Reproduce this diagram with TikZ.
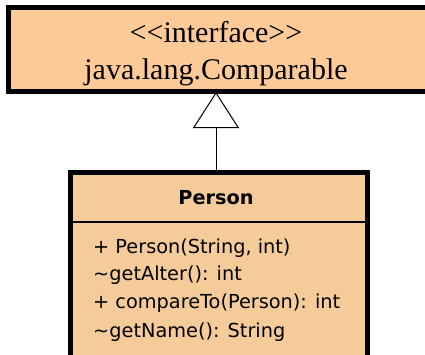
\documentclass[tikz,border=0pt]{standalone}
\usepackage{fontspec}
\setmainfont{Liberation Serif}
\newfontfamily\umlsans{DejaVu Sans}
\usetikzlibrary{arrows.meta}
\definecolor{ifacefill}{RGB}{254,202,152}
\definecolor{classfill}{RGB}{245,204,153}
\tikzset{
  ifacebox/.style={draw=black, line width=5pt, fill=ifacefill, rectangle, inner sep=0pt},
  classbox/.style={draw=black, line width=5pt, fill=classfill, rectangle, inner sep=0pt},
  serifbig/.style={font=\fontsize{30}{34}\selectfont, inner sep=0pt},
  opline/.style={font=\umlsans\fontsize{19.3}{24}\selectfont, anchor=west, inner sep=0pt},
  realize/.style={line width=1pt, -{Triangle[open, length=36pt, width=46pt, line width=1pt]}}
}
\begin{document}
\begin{tikzpicture}[x=1pt, y=-1pt]
\useasboundingbox (0,0) rectangle (425,354);
\clip (0,0) rectangle (425,354);
% interface box
\node[ifacebox, minimum width=432pt, minimum height=84pt] (iface) at (224,49.5) {};
\node[serifbig] (stereo) at (216,32) {<\kern0pt<interface>\kern0pt>};
\node[serifbig] (ifname) at (216,72) {java.lang.Comparable};
% class box
\node[classbox, minimum width=296.5pt, minimum height=210pt] (person) at (218.75,277.5) {};
\draw[black, line width=2pt] (person.west |- 0,222) -- (person.east |- 0,222);
\node[font=\umlsans\bfseries\fontsize{19.3}{24}\selectfont, inner sep=0pt] (pname) at (216,198) {Person};
\node[opline] (op1) at (93,248) {+ Person(String, int)};
\node[opline] (op2) at (93,275) {\char"7E getAlter(): int};
\node[opline] (op3) at (93,303) {+ compareTo(Person): int};
\node[opline] (op4) at (93,332) {\char"7E getName(): String};
% realization
\coordinate (tip) at (216,92);
\draw[realize] (tip |- person.north) -- (tip);
\end{tikzpicture}
\end{document}
